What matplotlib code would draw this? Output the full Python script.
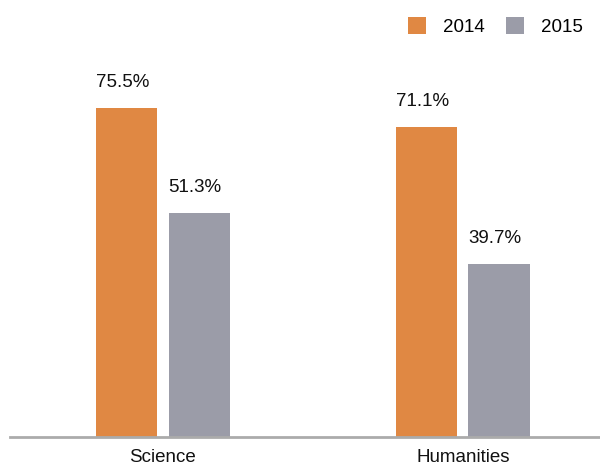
import numpy as np
import matplotlib.pyplot as plt

plt.rcParams['font.family'] = ['Liberation Sans', 'DejaVu Sans']

categories = ['Science', 'Humanities']
years = ['2014', '2015']
values_2014 = [75.5, 71.1]
values_2015 = [51.3, 39.7]
colors = ['#E08843', '#9B9CA8']

fig = plt.figure(figsize=(6, 4.66), dpi=100)
# axes box in figure fractions: baseline at y=437px, top at y=30px
ax = fig.add_axes([10/600, 29/466, 590/600, 407/466])

x = np.arange(len(categories))
w = 0.205
off = 0.121
bars1 = ax.bar(x - off, values_2014, w, color=colors[0], label=years[0])
bars2 = ax.bar(x + off, values_2015, w, color=colors[1], label=years[1])

for bars, vals in [(bars1, values_2014), (bars2, values_2015)]:
    for b, v in zip(bars, vals):
        ax.annotate('%.1f%%' % v, (b.get_x() + b.get_width()/2, v),
                    xytext=(-3, 15), textcoords='offset points',
                    ha='center', va='baseline', fontsize=13.5, color='#111111')

ax.set_xlim(-0.51, 1.457)
ax.set_ylim(0, 407/4.36)
ax.set_xticks(x)
ax.set_xticklabels(categories, fontsize=13.5, color='#111111')
ax.tick_params(axis='x', length=0, pad=8.5)
ax.set_yticks([])
for s in ['top', 'right', 'left']:
    ax.spines[s].set_visible(False)
ax.spines['bottom'].set_color('#ABABAB')
ax.spines['bottom'].set_linewidth(2)

fig.legend(loc='upper right', bbox_to_anchor=(1.0, 1.0), ncol=2, frameon=False,
           fontsize=13.5, handlelength=1.0, handleheight=1.0, handletextpad=0.9,
           columnspacing=1.1)

fig.savefig('out.png', dpi=100)
